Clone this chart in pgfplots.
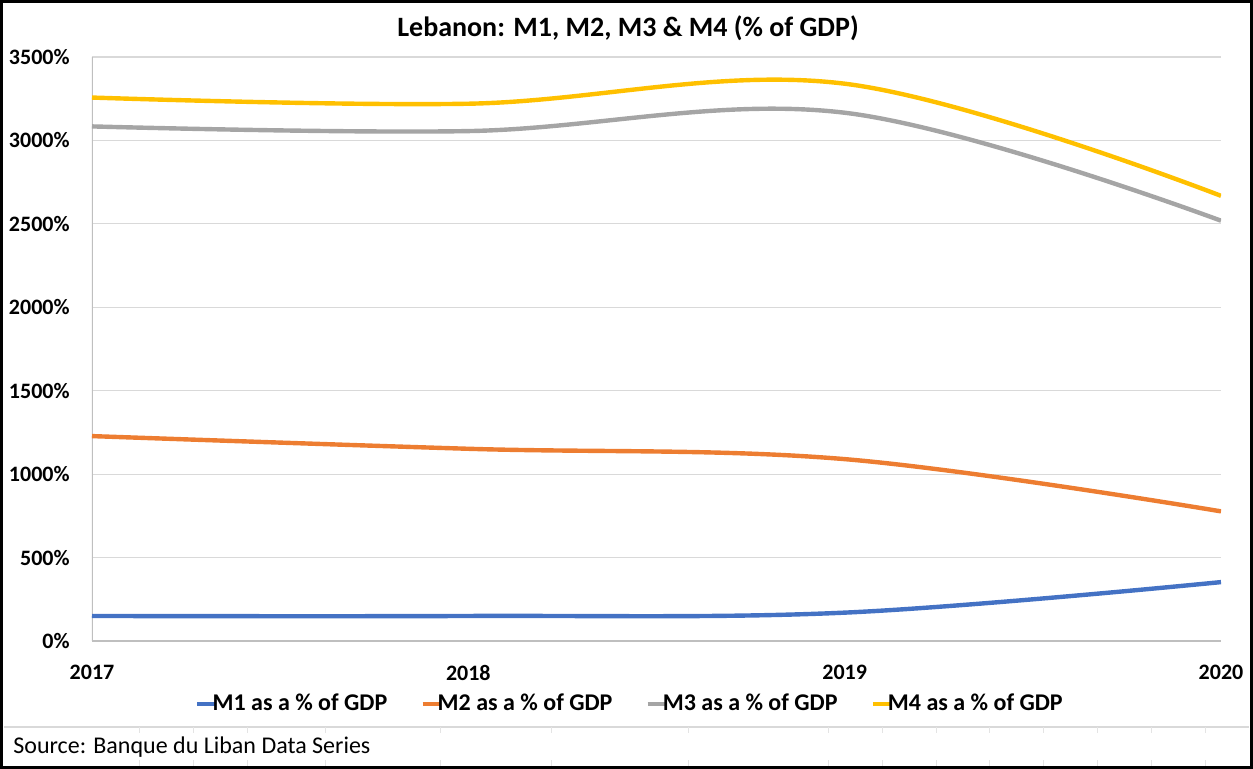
\documentclass[border=0pt]{standalone}
\usepackage{pgfplots}
\pgfplotsset{compat=1.18}
\usepackage{fontspec}
\setmainfont{Carlito}
\definecolor{cM1}{HTML}{4472C4}
\definecolor{cM2}{HTML}{ED7D31}
\definecolor{cM3}{HTML}{A5A5A5}
\definecolor{cM4}{HTML}{FFC000}
\definecolor{gridc}{HTML}{D9D9D9}
\definecolor{axc}{HTML}{BFBFBF}
\begin{document}
\begin{tikzpicture}
\path[use as bounding box] (0,0) rectangle (626.5pt,-384.5pt);
\begin{axis}[
  at={(46pt,-320.5pt)}, anchor=south west,
  scale only axis, width=564.5pt, height=292pt,
  xmin=2017, xmax=2020, ymin=0, ymax=3500,
  xtick={2017,2018,2019,2020}, xticklabels={2017,2018,2019,2020},
  ytick={0,500,1000,1500,2000,2500,3000,3500},
  yticklabels={0\%,500\%,1000\%,1500\%,2000\%,2500\%,3000\%,3500\%},
  major tick length=0pt,
  ymajorgrids, grid style={gridc, line width=0.6pt},
  axis line style={draw=none},
  xticklabel style={font=\fontsize{11}{13}\selectfont\bfseries, inner sep=0pt, anchor=north, yshift=-12pt},
  yticklabel style={font=\fontsize{11}{13}\selectfont\bfseries, inner sep=0pt, anchor=east, xshift=-11pt},
  legend columns=4,
  legend style={draw=none, fill=none, at={(0.4756,-0.1079)}, anchor=center,
    font=\fontsize{12}{14}\selectfont\bfseries, inner sep=0pt,
    nodes={inner sep=0pt},
    /tikz/every odd column/.append style={column sep=-2.5pt},
    /tikz/every even column/.append style={column sep=16.5pt}},
  legend image code/.code={\draw[#1] (0pt,0pt) -- (9pt,0pt);},
  every axis plot/.append style={line width=2.2pt, smooth, tension=0.6},
]
\draw[axc, line width=0.6pt] (axis cs:2017,0) -- (axis cs:2017,3500);
\draw[axc, line width=0.8pt] (axis cs:2017,0) -- (axis cs:2020,0);
\addplot[cM1] coordinates {(2017,150) (2018,150) (2019,170) (2020,353)};
\addlegendentry{M1 as a \% of GDP}
\addplot[cM2] coordinates {(2017,1228) (2018,1152) (2019,1090) (2020,777)};
\addlegendentry{M2 as a \% of GDP}
\addplot[cM3] coordinates {(2017,3084) (2018,3056) (2019,3166) (2020,2519)};
\addlegendentry{M3 as a \% of GDP}
\addplot[cM4] coordinates {(2017,3257) (2018,3220) (2019,3340) (2020,2668)};
\addlegendentry{M4 as a \% of GDP}
\end{axis}
\begin{scope}[x=0.5pt,y=-0.5pt]
\node[font=\fontsize{14}{16}\selectfont\bfseries] at (628,28) {Lebanon: M1, M2, M3 \& M4 (\% of GDP)};
\draw[gridc, line width=0.6pt] (4,727) -- (1249,727);
\foreach \xx in {139,193,247,325,440,551,688,828,882,936,989,1043,1097,1151,1205} {
  \draw[gridc!70, line width=0.5pt] (\xx,727) -- (\xx,733);
  \draw[gridc!70, line width=0.5pt] (\xx,760) -- (\xx,766);
}
\node[font=\fontsize{12}{14}\selectfont, anchor=west, inner sep=0pt] at (13,747) {Source: Banque du Liban Data Series};
\draw[black, line width=1.5pt] (1.5,1.5) rectangle (1251.5,767.5);
\end{scope}
\end{tikzpicture}
\end{document}
